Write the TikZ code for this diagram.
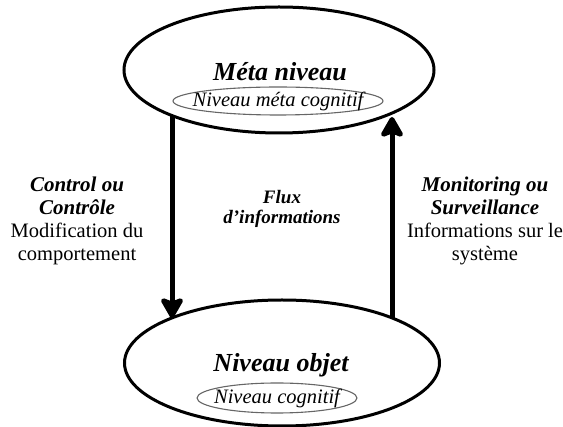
\documentclass[tikz,border=0pt]{standalone}
\usepackage{fontspec}
\setmainfont{Liberation Serif}
\usetikzlibrary{shapes.geometric,arrows.meta}
\tikzset{
  outer/.style={ellipse, draw=black, line width=3pt, inner sep=0pt},
  inner/.style={ellipse, draw=black!60, line width=1.1pt, inner sep=0pt},
  bigtitle/.style={font=\fontsize{26}{28}\selectfont\bfseries\itshape, inner sep=0pt},
  subtitle/.style={font=\fontsize{20.5}{22}\selectfont\itshape, inner sep=0pt},
  sidetext/.style={align=center, inner sep=0pt, font=\fontsize{21}{23}\selectfont},
  fluxtext/.style={align=center, inner sep=0pt, font=\fontsize{19}{20}\selectfont\bfseries\itshape},
  bigarrow/.style={line width=5pt, -{Stealth[length=24pt,width=27pt,inset=5pt,round]}}
}
\newcommand{\bi}{\fontsize{21}{23}\selectfont\bfseries\itshape}
\newcommand{\rg}{\fontsize{20.5}{23}\selectfont\normalfont}
\begin{document}
\begin{tikzpicture}[x=1pt,y=-1pt]
\useasboundingbox (0,0) rectangle (563,427);
% top
\node[outer, minimum width=310pt, minimum height=126pt] (top) at (279,70) {};
\node[inner, minimum width=210pt, minimum height=28pt] (topin) at (278,101) {};
\node[bigtitle] (meta) at (280,72) {Méta niveau};
\node[subtitle] (metacog) at (278,101) {Niveau méta cognitif};
% bottom
\node[outer, minimum width=315pt, minimum height=126pt] (bot) at (282,363) {};
\node[inner, minimum width=160pt, minimum height=30pt] (botin) at (277,398) {};
\node[bigtitle] (objet) at (281,365) {Niveau objet};
\node[subtitle] (cog) at (277,398) {Niveau cognitif};
% arrows
\coordinate (l1) at (172,116);
\coordinate (l2) at (172,318);
\coordinate (r1) at (392,318);
\coordinate (r2) at (392,117);
\draw[bigarrow] (l1) -- (l2);
\draw[bigarrow] (r1) -- (r2);
% texts
\node[sidetext] (left) at (77,221) {{\bi Control ou}\\{\bi Contrôle}\\{\rg Modification du}\\{\rg comportement}};
\node[sidetext] (right) at (485,221) {{\bi Monitoring ou}\\{\bi Surveillance}\\{\rg Informations sur le}\\{\rg système}};
\node[fluxtext] (flux) at (282,208.5) {Flux\\d’informations};
\end{tikzpicture}
\end{document}
